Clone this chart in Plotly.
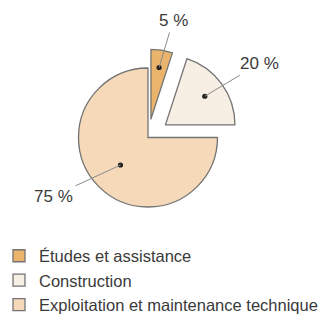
import math
import plotly.graph_objects as go

labels = ["Études et assistance", "Construction", "Exploitation et maintenance technique"]
values = [5, 20, 75]
value_text = ["5 %", "20 %", "75 %"]
colors = ["#eab46c", "#f8efe4", "#f5d9b9"]
pulls = [0.27, 0.31, 0.0]

W, H = 327, 315
OFF = 8  # page body margin: figure starts 8px right/down in the window
# pie geometry in window pixels
cx, cy = 148 - OFF, 137.5 - OFF
max_pull = max(pulls)
r = 69.5
half = r * (1 + max_pull)
dom_x = [(cx - half) / W, (cx + half) / W]
dom_y = [1 - (cy + half) / H, 1 - (cy - half) / H]

FONT = "Liberation Sans, Arial, Helvetica, sans-serif"

fig = go.Figure(go.Pie(
    labels=labels, values=values, sort=False, direction="clockwise", rotation=0,
    pull=pulls, textinfo="none", hoverinfo="label+percent",
    marker=dict(colors=colors, line=dict(color="#737373", width=1.3)),
    domain=dict(x=dom_x, y=dom_y),
))

# label annotations: dot inside each slice, text outside
dot_frac = [0.75, 0.70, 0.56]
text_off = [(14, -47), (55, -33), (-67, 31)]
total = sum(values)
cum = 0
annotations = []
shapes = []
for i, v in enumerate(values):
    mid = (cum + v / 2) / total * 2 * math.pi
    cum += v
    dx, dy = math.sin(mid), -math.cos(mid)
    ax0 = cx + dx * pulls[i] * r
    ay0 = cy + dy * pulls[i] * r
    px = ax0 + dx * dot_frac[i] * r
    py = ay0 + dy * dot_frac[i] * r
    annotations.append(dict(
        x=px / W, y=1 - py / H, xref="paper", yref="paper",
        text=value_text[i], showarrow=True, arrowhead=0,
        arrowwidth=1, arrowcolor="#8a8a8a", ax=text_off[i][0], ay=text_off[i][1],
        font=dict(size=17, color="#3a3a3a", family=FONT),
        standoff=0, borderpad=2,
    ))
    dr = 2.6
    shapes.append(dict(
        type="circle", xref="paper", yref="paper",
        x0=(px - dr) / W, x1=(px + dr) / W, y0=1 - (py + dr) / H, y1=1 - (py - dr) / H,
        fillcolor="#222222", line=dict(width=0),
    ))

fig.update_layout(
    width=W, height=H, margin=dict(l=0, r=0, t=0, b=0, pad=0, autoexpand=False),
    paper_bgcolor="white", plot_bgcolor="white",
    annotations=annotations, shapes=shapes,
    showlegend=True,
    legend=dict(x=-9 / W, y=0.5 / H, xanchor="left", yanchor="bottom",
                font=dict(size=16.5, color="#3a3a3a", family=FONT),
                bgcolor="rgba(0,0,0,0)", traceorder="normal"),
    font=dict(family=FONT),
)

fig.write_html("out.html")
